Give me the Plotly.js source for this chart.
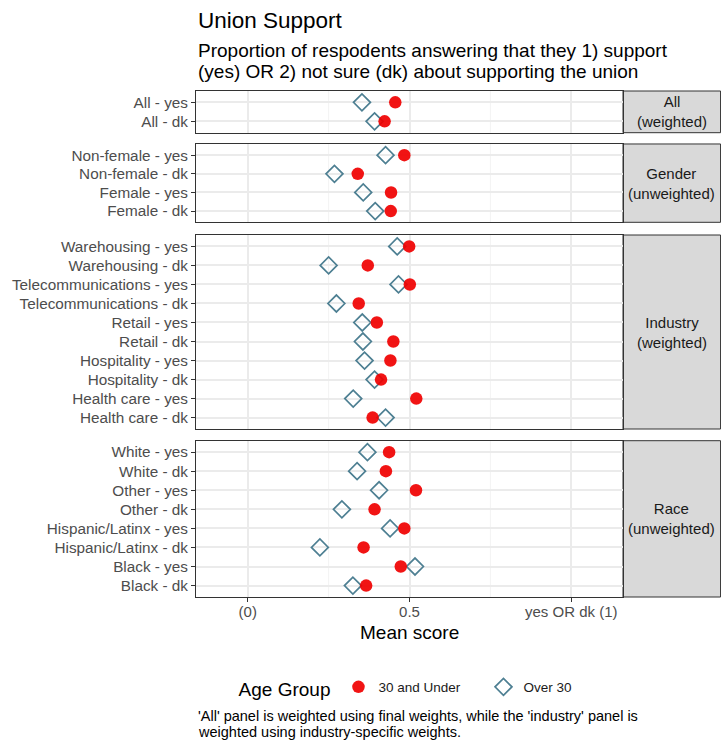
<!DOCTYPE html>
<html>
<head>
<meta charset="utf-8">
<script src="https://cdn.plot.ly/plotly-3.0.1.min.js"></script>
<style>html,body{margin:0;padding:0;background:#fff;}#chart{width:721px;height:754px;}</style>
</head>
<body>
<div id="chart"></div>
<script>
// ---- data ----
const allLabels = ["All - yes", "All - dk"];
const allUnder30 = [0.456, 0.423];
const allOver30 = [0.353, 0.392];

const genderLabels = ["Non-female - yes", "Non-female - dk", "Female - yes", "Female - dk"];
const genderUnder30 = [0.484, 0.340, 0.443, 0.442];
const genderOver30 = [0.426, 0.268, 0.357, 0.394];

const industryLabels = ["Warehousing - yes", "Warehousing - dk", "Telecommunications - yes", "Telecommunications - dk",
  "Retail - yes", "Retail - dk", "Hospitality - yes", "Hospitality - dk", "Health care - yes", "Health care - dk"];
const industryUnder30 = [0.499, 0.371, 0.501, 0.343, 0.399, 0.450, 0.441, 0.412, 0.521, 0.386];
const industryOver30 = [0.462, 0.250, 0.466, 0.274, 0.354, 0.356, 0.361, 0.392, 0.326, 0.426];

const raceLabels = ["White - yes", "White - dk", "Other - yes", "Other - dk",
  "Hispanic/Latinx - yes", "Hispanic/Latinx - dk", "Black - yes", "Black - dk"];
const raceUnder30 = [0.437, 0.427, 0.520, 0.392, 0.484, 0.358, 0.473, 0.366];
const raceOver30 = [0.370, 0.338, 0.406, 0.291, 0.440, 0.223, 0.517, 0.325];

const stripLabels = ["All<br>(weighted)", "Gender<br>(unweighted)", "Industry<br>(weighted)", "Race<br>(unweighted)"];
const xTickVals = [0, 0.5, 1];
const xTickText = ["(0)", "0.5", "yes OR dk (1)"];
const xMinorVals = [0.25, 0.75];
const seriesNames = ["30 and Under", "Over 30"];

// ---- figure builder ----
const FONT = "Liberation Sans, Arial, Helvetica, sans-serif";
const RED = "#f00000";
const TEAL = "#4d7f92";

function build(o) {
  const panels = [
    {labels: allLabels, u: allUnder30, o: allOver30, dom: [0.9176, 1.0]},
    {labels: genderLabels, u: genderUnder30, o: genderOver30, dom: [0.7405, 0.8953]},
    {labels: industryLabels, u: industryUnder30, o: industryOver30, dom: [0.3320, 0.7154]},
    {labels: raceLabels, u: raceUnder30, o: raceOver30, dom: [0.0, 0.3089]}
  ];
  const traces = [];
  const legend = o.plainLegend ? {
    orientation: "h", x: 0.095, xanchor: "left", y: -0.182, yanchor: "middle",
    title: {text: "Age Group", font: {size: 19, color: "#000"}, side: "left"},
    font: {size: 13.5}, itemwidth: 30, entrywidth: 100, entrywidthmode: "pixels"
  } : {
    orientation: "h", x: 0.095, xanchor: "left", y: -0.182, yanchor: "middle",
    title: {text: "Age Group", font: {size: 19, color: "#000"}, side: "left"},
    font: {size: 13.5, color: "#1a1a1a"}, traceorder: "normal", itemwidth: 30,
    entrywidth: 100, entrywidthmode: "pixels"
  };
  const layout = {
    width: 721, height: 754,
    margin: {l: 196, r: 98, t: 91, b: 157},
    font: {family: FONT, color: "#4d4d4d", size: 15},
    showlegend: true, legend: legend,
    shapes: [], annotations: []
  };
  panels.forEach((p, i) => {
    const sfx = i === 0 ? "" : String(i + 1);
    const xa = "x" + sfx, ya = "y" + sfx;
    traces.push({
      type: "scatter", mode: "markers", x: p.o, y: p.labels, xaxis: xa, yaxis: ya,
      name: seriesNames[1], showlegend: i === 0,
      marker: o.plainMarker ? {symbol: "diamond-open", size: 13, color: TEAL}
        : {symbol: "diamond-open", size: 13, color: TEAL, line: {width: 1.7, color: TEAL}}
    });
    traces.push({
      type: "scatter", mode: "markers", x: p.u, y: p.labels, xaxis: xa, yaxis: ya,
      name: seriesNames[0], showlegend: i === 0,
      marker: o.plainMarker ? {symbol: "circle", size: 12.5, color: RED}
        : {symbol: "circle", size: 12.5, color: RED, opacity: 0.92, line: {width: 0}}
    });
    if (!o.plainLegend) {
      traces[traces.length - 2].legendrank = 2; traces[traces.length - 2].legendgroup = "o";
      traces[traces.length - 1].legendrank = 1; traces[traces.length - 1].legendgroup = "u";
    }
    const last = i === panels.length - 1;
    const xax = {
      domain: [0, 1], anchor: ya, range: [-0.16, 1.16],
      tickmode: "array", tickvals: xTickVals, ticktext: xTickText,
      showticklabels: last, ticks: last ? "outside" : "", tickfont: {size: 15},
      showline: true, mirror: true, zeroline: false, fixedrange: true
    };
    if (!o.plainAxis) {
      Object.assign(xax, {ticklen: 4, tickwidth: 1, tickcolor: "#333", ticklabelstandoff: -3,
        gridcolor: "#ebebeb", gridwidth: 1.5, linecolor: "#333", linewidth: 1, showgrid: true});
    }
    layout["xaxis" + sfx] = xax;
    const n = p.labels.length;
    layout["yaxis" + sfx] = {
      domain: p.dom, anchor: xa, type: "category", categoryorder: "array", categoryarray: p.labels,
      range: [n - 1 + 0.6, -0.6],
      ticks: "outside", ticklen: 4, tickwidth: 1, tickcolor: "#333",
      tickfont: {size: 15.3, color: "#4d4d4d"},
      showgrid: true, gridcolor: "#ebebeb", gridwidth: 1.5, zeroline: false,
      showline: true, mirror: true, linecolor: "#333", linewidth: 1, fixedrange: true
    };
    if (!o.noMinor) {
      xMinorVals.forEach(v => {
        layout.shapes.push({
          type: "line", xref: xa, yref: ya + " domain", x0: v, x1: v, y0: 0, y1: 1,
          line: {color: "#f3f3f3", width: 1}, layer: "below"
        });
      });
    }
    layout.shapes.push(o.noMinor ? {
      type: "rect", xref: "paper", yref: "paper", x0: 1.0, x1: 1.2285, y0: p.dom[0], y1: p.dom[1],
      fillcolor: "#d9d9d9", line: {color: "#333", width: 1}
    } : {
      type: "rect", xref: "paper", yref: "paper", x0: 1.0, x1: 1.2285, y0: p.dom[0], y1: p.dom[1],
      fillcolor: "#d9d9d9", line: {color: "#333", width: 1}, layer: "below"
    });
    layout.annotations.push({
      xref: "paper", yref: "paper", x: 1.1143, y: (p.dom[0] + p.dom[1]) / 2,
      xanchor: "center", yanchor: "middle", text: stripLabels[i], showarrow: false,
      font: {size: 15, color: "#1a1a1a"}, align: "center"
    });
  });
  layout.annotations.push(
    {xref: "paper", yref: "paper", x: 0.0, y: 1.1403, xanchor: "left", yanchor: "middle", showarrow: false,
     text: "Union Support", font: {size: 22.5, color: "#000"}},
    {xref: "paper", yref: "paper", x: 0.0, y: 1.081, xanchor: "left", yanchor: "middle", showarrow: false,
     text: "Proportion of respodents answering that they 1) support", font: {size: 19, color: "#000"}},
    {xref: "paper", yref: "paper", x: 0.0, y: 1.0395, xanchor: "left", yanchor: "middle", showarrow: false,
     text: "(yes) OR 2) not sure (dk) about supporting the union", font: {size: 19, color: "#000"}},
    {xref: "paper", yref: "paper", x: 0.5, y: -0.0692, xanchor: "center", yanchor: "middle", showarrow: false,
     text: "Mean score", font: {size: 19, color: "#000"}},
    {xref: "paper", yref: "paper", x: 0.0, y: -0.235, xanchor: "left", yanchor: "middle", showarrow: false,
     text: "'All' panel is weighted using final weights, while the 'industry' panel is", font: {size: 14.5, color: "#000"}},
    {xref: "paper", yref: "paper", x: 0.0, y: -0.267, xanchor: "left", yanchor: "middle", showarrow: false,
     text: "weighted using industry-specific weights.", font: {size: 14.5, color: "#000"}}
  );
  return [traces, layout];
}

// ---- check that the middle x tick label really shows ----
function domCheck(gd) {
  const t = Array.from(gd.querySelectorAll(".x4tick text")).find(e => e.textContent.trim() === "0.5");
  if (!t) return false;
  let el = t;
  while (el && el !== gd) {
    const cs = getComputedStyle(el);
    if (cs.display === "none" || cs.visibility === "hidden" || parseFloat(cs.opacity) === 0) return false;
    el = el.parentNode;
  }
  const b = t.getBoundingClientRect();
  if (b.width < 2 || b.height < 2) return false;
  const g = gd.getBoundingClientRect();
  return b.left >= g.left && b.right <= g.right && b.top >= g.top && b.bottom <= g.bottom;
}
async function pixelCheck(gd) {
  try {
    const url = await Plotly.toImage(gd, {format: "png", width: 721, height: 754, scale: 1});
    const img = new Image();
    await new Promise((res, rej) => { img.onload = res; img.onerror = rej; img.src = url; });
    const c = document.createElement("canvas"); c.width = 721; c.height = 754;
    const ctx = c.getContext("2d"); ctx.drawImage(img, 0, 0);
    const d = ctx.getImageData(396, 603, 28, 22).data;
    let dark = 0;
    for (let k = 0; k < d.length; k += 4) if (d[k + 3] > 100 && d[k] < 160) dark++;
    return dark > 8;
  } catch (e) { return null; }
}

const gd = document.getElementById("chart");
const cfg = {displayModeBar: false};
const candidates = [
  {}, {plainAxis: 1}, {plainLegend: 1}, {noMinor: 1}, {plainMarker: 1},
  {plainAxis: 1, plainLegend: 1, noMinor: 1, plainMarker: 1}
];
(async () => {
  for (const c of candidates) {
    const [t, l] = build(c);
    await Plotly.newPlot(gd, t, l, cfg);
    if (!domCheck(gd)) continue;
    const px = await pixelCheck(gd);
    if (px === false) continue;
    return;
  }
  const [t, l] = build({});
  await Plotly.newPlot(gd, t, l, cfg);
})();
</script>
</body>
</html>
